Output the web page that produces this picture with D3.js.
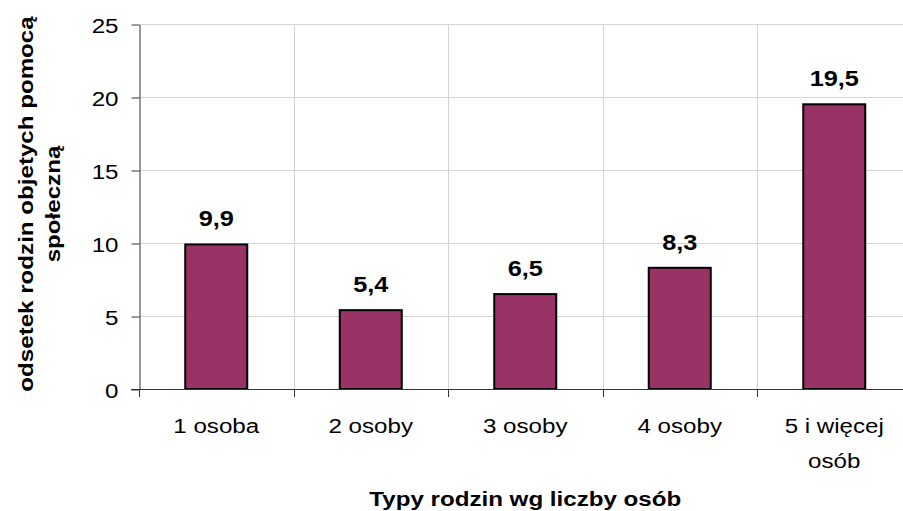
<!DOCTYPE html>
<html>
<head>
<meta charset="utf-8">
<script src="https://cdn.jsdelivr.net/npm/d3@7"></script>
<style>
  body { margin: 0; background: #fff; }
  svg { display: block; font-family: "Liberation Sans", Arial, sans-serif; }
</style>
</head>
<body>
<div id="chart"></div>
<script>
var categories = [['1 osoba'], ['2 osoby'], ['3 osoby'], ['4 osoby'], ['5 i więcej', 'osób']],
    values = [9.9, 5.4, 6.5, 8.3, 19.5],
    valueLabels = ['9,9', '5,4', '6,5', '8,3', '19,5'],
    yTicks = [0, 5, 10, 15, 20, 25],
    yTitle = ['odsetek rodzin objetych pomocą', 'społeczną'],
    xTitle = 'Typy rodzin wg liczby osób';

var W = 903, H = 511,
    pLeft = 139, pTop = 24, pRight = 911.5, pBottom = 389,
    sx = 1.15;   // glyphs in the reference are a bit wider than Liberation Sans

var svg = d3.select('#chart').append('svg')
    .attr('width', W)
    .attr('height', H);

var xScale = d3.scaleBand()
    .domain(d3.range(categories.length))
    .range([pLeft, pRight]);

var yScale = d3.scaleLinear()
    .domain([0, 25])
    .range([pBottom, pTop]);

var bw = xScale.bandwidth(),
    barW = 62;

// places a text at x,y (optionally rotated), stretched horizontally
var label = function(parent, x, y, rot, size, weight, anchor, txt) {
    return parent.append('text')
        .attr('transform', 'translate(' + x + ',' + y + ')' + (rot ? ' rotate(' + rot + ')' : '') + ' scale(' + sx + ',1)')
        .attr('text-anchor', anchor)
        .attr('fill', '#000')
        .style('font-size', size + 'px')
        .style('font-weight', weight)
        .text(txt);
};

// gridlines
var grid = svg.append('g');
grid.selectAll('.hg')
    .data(yTicks.filter(function(d) { return d > 0; }))
    .enter().append('line')
    .attr('x1', pLeft).attr('x2', pRight)
    .attr('y1', function(d) { return Math.round(yScale(d)) + 0.5; })
    .attr('y2', function(d) { return Math.round(yScale(d)) + 0.5; })
    .attr('stroke', '#d4d4d4');
grid.selectAll('.vg')
    .data(d3.range(1, categories.length + 1))
    .enter().append('line')
    .attr('x1', function(d) { return Math.round(pLeft + d * bw) + 0.5; })
    .attr('x2', function(d) { return Math.round(pLeft + d * bw) + 0.5; })
    .attr('y1', pTop).attr('y2', pBottom)
    .attr('stroke', '#d4d4d4');

// bars
svg.append('g').selectAll('rect')
    .data(values)
    .enter().append('rect')
    .attr('x', function(d, i) { return xScale(i) + (bw - barW) / 2; })
    .attr('y', function(d) { return yScale(d); })
    .attr('width', barW)
    .attr('height', function(d) { return pBottom - yScale(d); })
    .attr('fill', '#993366')
    .attr('stroke', '#000')
    .attr('stroke-width', 2);

// value labels
var vl = svg.append('g');
values.forEach(function(d, i) {
    label(vl, xScale(i) + bw / 2, yScale(d) - 18, 0, 22, 'bold', 'middle', valueLabels[i]);
});

// y axis
var yAxis = d3.axisLeft(yScale)
    .tickValues(yTicks)
    .tickSize(8)
    .tickSizeOuter(0);
var yy = svg.append('g')
    .attr('transform', 'translate(' + (pLeft + 0.5) + ',0.5)')
    .call(yAxis);
yy.select('.domain').attr('stroke', '#333');
yy.selectAll('.tick line').attr('stroke', '#333');
yy.selectAll('.tick text').remove();
yy.selectAll('.tick').each(function(d) {
    label(d3.select(this), -21, 8, 0, 21, 'normal', 'end', d);
});

// x axis
svg.append('line')
    .attr('x1', pLeft - 8).attr('x2', pRight)
    .attr('y1', pBottom + 0.5).attr('y2', pBottom + 0.5)
    .attr('stroke', '#333');
svg.append('g').selectAll('line')
    .data(d3.range(0, categories.length + 1))
    .enter().append('line')
    .attr('x1', function(d) { return Math.round(pLeft + d * bw) + 0.5; })
    .attr('x2', function(d) { return Math.round(pLeft + d * bw) + 0.5; })
    .attr('y1', pBottom).attr('y2', pBottom + 8)
    .attr('stroke', '#333');

var xl = svg.append('g');
categories.forEach(function(lines, i) {
    lines.forEach(function(line, j) {
        label(xl, xScale(i) + bw / 2, 433 + j * 35, 0, 21, 'normal', 'middle', line);
    });
});

// axis titles
label(svg, (pLeft + pRight) / 2, 506, 0, 21, 'bold', 'middle', xTitle);

yTitle.forEach(function(line, j) {
    label(svg, 33 + j * 27, 204, -90, 21, 'bold', 'middle', line);
});
</script>
</body>
</html>
